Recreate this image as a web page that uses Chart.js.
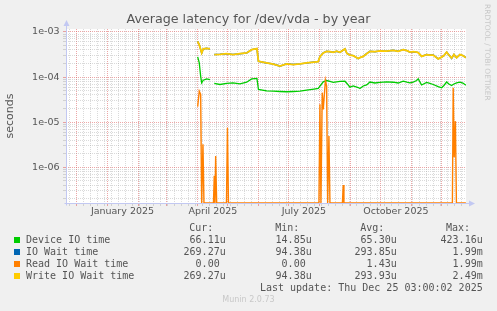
<!DOCTYPE html>
<html>
<head>
<meta charset="utf-8">
<script src="https://cdn.jsdelivr.net/npm/chart.js@4/dist/chart.umd.min.js"></script>
<style>
html,body{margin:0;padding:0;background:#f0f0f0;}
#wrap{position:relative;width:497px;height:311px;overflow:hidden;background:#f0f0f0;}
#c{position:absolute;left:0;top:0;}
.t{position:absolute;white-space:pre;color:#555;line-height:12px;height:12px;}
.s{font-family:"DejaVu Sans",sans-serif;}
.m{font-family:"DejaVu Sans Mono",monospace;font-size:10px;}
.r{text-align:right;}
.sq{position:absolute;width:6px;height:6px;}
</style>
</head>
<body>
<div id="wrap">
<canvas id="c" width="497" height="311"></canvas>
<div class="t s" id="title" style="left:0;width:497px;text-align:center;top:12px;font-size:12.7px;line-height:14px;height:14px;">Average latency for /dev/vda - by year</div>
<div class="t s" style="left:487px;top:4px;font-size:7.5px;color:#c8c8c8;transform-origin:0 0;transform:rotate(90deg) translate(0,-4px);line-height:8px;">RRDTOOL / TOBI OETIKER</div>
<div id="legend"></div>
<div class="t m r" style="right:14.3px;top:281.7px;">Last update: Thu Dec 25 03:00:02 2025</div>
<div class="t s" style="left:0;width:497px;text-align:center;top:295px;font-size:8px;color:#c8c8c8;line-height:10px;">Munin 2.0.73</div>
</div>
<script>
// x values are days since 1 January 2025
const X_START = -42, X_END = 358.1;
const Y_MIN = 1.6e-7, Y_MAX = 1.165e-3;

const monthStartDays = [-31, 0, 31, 59, 90, 120, 151, 181, 212, 243, 273, 304, 334];
const xTickLabels = ['January 2025', 'April 2025', 'July 2025', 'October 2025'];
const xTickLabelDays = [14.5, 105, 196, 288];
const yDecades = [1e-3, 1e-4, 1e-5, 1e-6];

const seriesNames = ['Device IO time', 'IO Wait time', 'Read IO Wait time', 'Write IO Wait time'];
const seriesColors = ['#00cc00', '#0066b3', '#ff8000', '#ffcc00'];
const statCur = ['66.11u', '269.27u', '0.00 ', '269.27u'];
const statMin = ['14.85u', '94.38u', '0.00 ', '94.38u'];
const statAvg = ['65.30u', '293.85u', '1.43u', '293.93u'];
const statMax = ['423.16u', '1.99m', '1.99m', '2.49m'];

const days = [89.7, 91.3, 92.7, 93.7, 95.3, 98.7, 102, 104, 106.3, 112, 118.7, 125, 132, 138.7, 143.7, 149,
  150.5, 158.7, 165.3, 172, 178.7, 185.3, 192, 198.7, 206, 210.3, 212, 215.3, 218.7, 222, 225.3, 228.7, 232,
  237, 239, 242, 245.3, 250.3, 252, 255.3, 258.7, 262, 267, 272, 278.7, 285.3, 290.3, 295.3, 299, 302, 305.3,
  308.7, 310.3, 313.7, 318.7, 322, 325.3, 330.3, 333.7, 336, 338.7, 341, 343.7, 346, 348.7, 352, 355, 358];

const deviceIO = [2.8e-4, 2.06e-4, 1.04e-4, 7.44e-5, 8.5e-5, 9.12e-5, 8.81e-5, null, 7.2e-5, 6.83e-5, 7.2e-5,
  7.44e-5, 7.08e-5, 7.67e-5, 9.12e-5, 9.3e-5, 5.29e-5, 4.95e-5, 4.85e-5, 4.78e-5, 4.71e-5, 4.78e-5, 4.85e-5,
  5.1e-5, 5.38e-5, 5.57e-5, 6.26e-5, 7.83e-5, 8.37e-5, 7.98e-5, 7.6e-5, 7.83e-5, 7.98e-5, 8.07e-5, 7.2e-5,
  5.95e-5, 6.33e-5, 5.85e-5, 5.57e-5, 6.33e-5, 6.66e-5, 7.75e-5, 7.37e-5, 7.6e-5, 7.83e-5, 7.67e-5, 7.37e-5,
  8.07e-5, 7.67e-5, 7.44e-5, 7.75e-5, 8.37e-5, 9.12e-5, 6.66e-5, 7.6e-5, 7.2e-5, 6.83e-5, 6.16e-5, 5.77e-5,
  6.5e-5, 7.75e-5, 7.0e-5, 6.5e-5, 7.0e-5, 7.44e-5, 7.67e-5, 7.37e-5, 6.61e-5];

const ioWait = [6.2e-4, 5.2e-4, 4.06e-4, 3.43e-4, 4.21e-4, 4.34e-4, 4.21e-4, null, 3.15e-4, 3.2e-4, 3.3e-4,
  3.15e-4, 3.3e-4, 3.43e-4, 4.06e-4, 4.27e-4, 2.24e-4, 2.06e-4, 1.94e-4, 1.75e-4, 1.96e-4, 1.89e-4, 1.96e-4,
  2.06e-4, 2.15e-4, 2.2e-4, 2.84e-4, 3.43e-4, 3.72e-4, 3.66e-4, 3.54e-4, 3.75e-4, 3.54e-4, 4.21e-4, 3.34e-4,
  3.08e-4, 2.99e-4, 2.57e-4, 2.7e-4, 2.88e-4, 3.3e-4, 3.72e-4, 3.66e-4, 3.79e-4, 3.75e-4, 3.92e-4, 3.72e-4,
  4.06e-4, 3.86e-4, 3.57e-4, 3.66e-4, 3.57e-4, 3.49e-4, 2.88e-4, 3.15e-4, 3.08e-4, 3.08e-4, 2.53e-4, 2.77e-4,
  2.99e-4, 3.57e-4, 3.08e-4, 2.6e-4, 3.15e-4, 2.7e-4, 3.15e-4, 2.99e-4, 2.69e-4];

const writeWait = [6.2e-4, 5.2e-4, 4.06e-4, 3.43e-4, 4.21e-4, 4.34e-4, 4.21e-4, null, 3.15e-4, 3.2e-4, 3.3e-4,
  3.15e-4, 3.3e-4, 3.43e-4, 4.06e-4, 4.27e-4, 2.24e-4, 2.06e-4, 1.94e-4, 1.75e-4, 1.96e-4, 1.89e-4, 1.96e-4,
  2.06e-4, 2.15e-4, 2.2e-4, 2.84e-4, 3.43e-4, 3.72e-4, 3.66e-4, 3.54e-4, 3.75e-4, 3.54e-4, 4.21e-4, 3.34e-4,
  3.08e-4, 2.99e-4, 2.57e-4, 2.7e-4, 2.88e-4, 3.3e-4, 3.72e-4, 3.66e-4, 3.79e-4, 3.75e-4, 3.92e-4, 3.72e-4,
  4.06e-4, 3.86e-4, 3.57e-4, 3.66e-4, 3.57e-4, 3.49e-4, 2.88e-4, 3.15e-4, 3.08e-4, 3.08e-4, 2.53e-4, 2.77e-4,
  2.99e-4, 3.57e-4, 3.08e-4, 2.63e-4, 3.15e-4, 2.7e-4, 3.15e-4, 2.99e-4, 2.69e-4];

const readDays = [89.7, 91.3, 92.7, 93.7, 95, 96, 105.5, 106.3, 107, 107.7, 108.7, 118.5, 119.5, 120.5,
  211, 212, 213, 214.3, 215.3, 217.5, 218.7, 219.7, 221, 222, 234.5, 235.3, 236, 344.5, 345.3, 346.3, 347.5,
  348.5, 358];
const readWait = [2.2e-5, 4.85e-5, 4.1e-5, 0, 3.2e-6, 0, 0, 6.4e-7, 0, 1.77e-6, 0, 0, 7.5e-6, 0,
  0, 2.5e-5, 0, 4.5e-5, 1.9e-5, 8.5e-5, 6.3e-5, 0, 4.9e-6, 0, 0, 4e-7, 0, 0, 5.8e-5, 1.66e-6, 1.05e-5,
  0, 0];

// ---------- legend (HTML text) ----------
const leg = document.getElementById('legend');
function addText(txt, cls, style) {
  const d = document.createElement('div');
  d.className = 't ' + cls;
  d.style.cssText = style;
  d.textContent = txt;
  leg.appendChild(d);
}
const colRight = [225.7, 311.7, 396.7, 482.7];
const hdrRight = [213.3, 299.3, 384.3, 470];
['Cur:', 'Min:', 'Avg:', 'Max:'].forEach((h, i) => addText(h, 'm r', `right:${497 - hdrRight[i]}px;top:221.7px;`));
seriesNames.forEach((n, r) => {
  const cy = 239.7 + r * 12;
  const sq = document.createElement('div');
  sq.className = 'sq';
  sq.style.cssText = `left:14px;top:${cy - 3}px;background:${seriesColors[r]};`;
  leg.appendChild(sq);
  addText(n, 'm', `left:26px;top:${cy - 6}px;`);
  [statCur, statMin, statAvg, statMax].forEach((arr, c) =>
    addText(arr[r], 'm r', `right:${497 - colRight[c]}px;top:${cy - 6}px;`));
});

// ---------- chart ----------
const pts = (xs, ys) => xs.map((x, i) => ({x, y: ys[i] === null ? null : (ys[i] === 0 ? Y_MIN : ys[i])}));

const MAJOR = 'rgba(220,80,80,0.5)';
const MINOR = 'rgba(150,150,150,0.35)';
const AXIS = '#c2c8f2';

const bgPlugin = {
  id: 'bg',
  beforeDraw(chart) {
    const {ctx, chartArea: a} = chart;
    ctx.save();
    ctx.fillStyle = '#ffffff';
    ctx.fillRect(a.left, a.top, a.right - a.left, a.bottom - a.top);
    ctx.restore();
  }
};
const axisPlugin = {
  id: 'axes',
  beforeDatasetsDraw(chart) {
    const {ctx, chartArea: a} = chart;
    const x0 = Math.round(a.left) + 0.5, y0 = Math.round(a.bottom) + 0.5;
    ctx.save();
    ctx.strokeStyle = AXIS; ctx.fillStyle = AXIS; ctx.lineWidth = 1;
    ctx.beginPath();
    ctx.moveTo(x0, a.top - 4); ctx.lineTo(x0, y0 + 2);
    ctx.moveTo(x0 - 2, y0); ctx.lineTo(a.right + 3, y0);
    ctx.stroke();
    ctx.beginPath();
    ctx.moveTo(x0 - 3, a.top - 3); ctx.lineTo(x0 + 3, a.top - 3); ctx.lineTo(x0, a.top - 9); ctx.closePath();
    ctx.fill();
    ctx.beginPath();
    ctx.moveTo(a.right + 3, y0 - 3); ctx.lineTo(a.right + 3, y0 + 3); ctx.lineTo(a.right + 9, y0); ctx.closePath();
    ctx.fill();
    ctx.restore();
  }
};

const xTickKind = new Map();
const yTickKind = new Map();

new Chart(document.getElementById('c'), {
  type: 'line',
  data: {
    datasets: [
      {label: seriesNames[0], data: pts(days, deviceIO), borderColor: seriesColors[0], borderWidth: 1.3, order: 4},
      {label: seriesNames[1], data: pts(days, ioWait), borderColor: seriesColors[1], borderWidth: 1.5, order: 3},
      {label: seriesNames[2], data: pts(readDays, readWait), borderColor: seriesColors[2], borderWidth: 1.4, order: 2},
      {label: seriesNames[3], data: pts(days, writeWait), borderColor: seriesColors[3], borderWidth: 1.8, order: 1}
    ]
  },
  options: {
    responsive: false,
    animation: false,
    devicePixelRatio: 1,
    spanGaps: false,
    elements: {point: {radius: 0}, line: {tension: 0, fill: false}},
    layout: {padding: {left: 0, right: 31, top: 29, bottom: 0}},
    plugins: {legend: {display: false}, title: {display: false}, tooltip: {enabled: false}},
    scales: {
      x: {
        type: 'linear', min: X_START, max: X_END,
        afterFit(s) { s.height = 108; },
        afterBuildTicks(s) {
          xTickKind.clear();
          const t = [];
          monthStartDays.forEach(d => { t.push(d); xTickKind.set(d, 'major'); });
          for (let d = -38; d <= X_END; d += 7) {
            if (!xTickKind.has(d)) { t.push(d); xTickKind.set(d, 'minor'); }
          }
          xTickLabelDays.forEach((d, i) => { t.push(d); xTickKind.set(d, 'label:' + i); });
          t.sort((a, b) => a - b);
          s.ticks = t.filter(v => v >= X_START && v <= X_END).map(v => ({value: v}));
        },
        grid: {
          drawTicks: true, tickLength: 3,
          color: ctx => { const k = xTickKind.get(ctx.tick && ctx.tick.value); return k === 'major' ? MAJOR : (k === 'minor' ? MINOR : 'rgba(0,0,0,0)'); },
          tickColor: ctx => { const k = xTickKind.get(ctx.tick && ctx.tick.value); return k === 'major' ? MAJOR : (k === 'minor' ? MINOR : 'rgba(0,0,0,0)'); },
          lineWidth: 1
        },
        border: {display: false, dash: [1, 1]},
        ticks: {
          autoSkip: false, maxRotation: 0, minRotation: 0, padding: 0,
          color: '#555', font: {family: 'DejaVu Sans', size: 9.5},
          callback: v => { const k = xTickKind.get(v); return (k && k.startsWith('label:')) ? xTickLabels[+k.slice(6)] : ''; }
        }
      },
      y: {
        type: 'logarithmic', min: Y_MIN, max: Y_MAX,
        afterFit(s) { s.width = 66; },
        afterBuildTicks(s) {
          yTickKind.clear();
          const t = [];
          for (let e = -7; e <= -3; e++) {
            for (let m = 1; m <= 9; m++) {
              const v = +(m + 'e' + e);
              if (v >= Y_MIN && v <= Y_MAX) { t.push({value: v}); yTickKind.set(v, m === 1 ? 'major' : 'minor'); }
            }
          }
          s.ticks = t;
        },
        grid: {
          drawTicks: true, tickLength: 3,
          color: ctx => yTickKind.get(ctx.tick && ctx.tick.value) === 'major' ? MAJOR : MINOR,
          tickColor: ctx => yTickKind.get(ctx.tick && ctx.tick.value) === 'major' ? MAJOR : MINOR,
          lineWidth: 1
        },
        border: {display: false, dash: [1, 1]},
        title: {display: true, text: 'seconds', color: '#555', font: {family: 'DejaVu Sans', size: 11}, padding: {top: 4, bottom: 0}},
        ticks: {
          autoSkip: false, padding: 3.5,
          color: '#555', font: {family: 'DejaVu Sans', size: 9.5},
          callback: v => {
            const i = yDecades.findIndex(d => Math.abs(d - v) / d < 1e-6);
            if (i < 0) return '';
            const e = Math.round(Math.log10(v));
            return '1e-' + String(-e).padStart(2, '0');
          }
        }
      }
    }
  },
  plugins: [bgPlugin, axisPlugin]
});
</script>
</body>
</html>
